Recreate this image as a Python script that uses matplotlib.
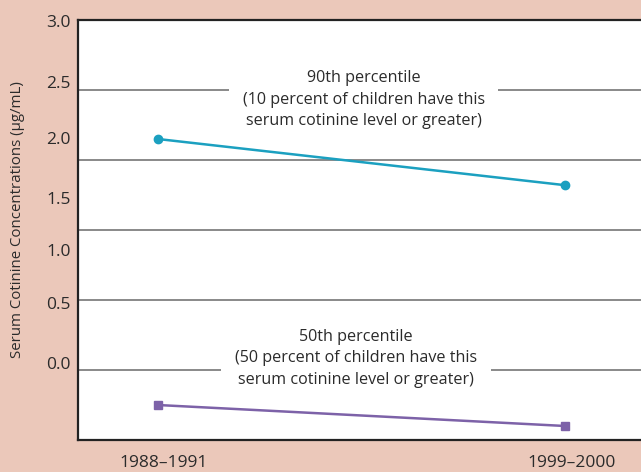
import matplotlib
matplotlib.use("Agg")
import matplotlib.pyplot as plt
from matplotlib.transforms import ScaledTranslation

# Survey periods and serum cotinine percentiles (µg/mL)
periods = ["1988–1991", "1999–2000"]
p90 = [2.15, 1.82]
p50 = [0.25, 0.10]

# Reference lines on the value axis
grid_values = [0.5, 1.0, 1.5, 2.0, 2.5]
# Tick text and where it sits along the axis
tick_labels = ["3.0", "2.5", "2.0", "1.5", "1.0", "0.5", "0.0"]
tick_positions = [2.99, 2.56, 2.16, 1.73, 1.36, 0.98, 0.55]

bg = "#EBC8BA"
ink = "#2b2b2b"
plt.rcParams["font.family"] = ["Open Sans", "DejaVu Sans"]

fig = plt.figure(figsize=(6.41, 4.72), dpi=100, facecolor=bg)
ax = fig.add_axes([78 / 641, 1 - 440 / 472, 1 - 78 / 641, 420 / 472])
ax.set_facecolor("white")

x = list(range(len(periods)))
ax.set_xlim(-0.196, 1.186)
ax.set_ylim(0, 3.0)

for g in grid_values:
    ax.axhline(g, color="#6a6a6a", lw=1.1, zorder=1)

ax.plot(x, p90, color="#1BA0C0", lw=1.8, marker="o", ms=6, zorder=5)
ax.plot(x, p50, color="#7D62A8", lw=1.8, marker="s", ms=6, zorder=5)

box = dict(facecolor="white", edgecolor="none", pad=10)
ax.text(0.505, 2.43, "90th percentile\n(10 percent of children have this\nserum cotinine level or greater)",
        ha="center", va="center", fontsize=11.6, color=ink, linespacing=1.45,
        bbox=box, zorder=3)
ax.text(0.487, 0.585, "50th percentile\n(50 percent of children have this\nserum cotinine level or greater)",
        ha="center", va="center", fontsize=11.6, color=ink, linespacing=1.45,
        bbox=box, zorder=3)

for side in ["top", "left", "bottom"]:
    ax.spines[side].set_color("#222222")
    ax.spines[side].set_linewidth(1.6)
ax.spines["right"].set_visible(False)

ax.set_xticks(x, periods)
ax.set_yticks(tick_positions, tick_labels)
ax.tick_params(axis="x", length=0, pad=11, labelsize=12.5, labelcolor=ink)
ax.tick_params(axis="y", length=0, pad=5, labelsize=12.5, labelcolor=ink)

shift = ScaledTranslation(6 / 100, 0, fig.dpi_scale_trans)
for lab in ax.get_xticklabels():
    lab.set_transform(lab.get_transform() + shift)

fig.text(18 / 641, 1 - 220 / 472, "Serum Cotinine Concentrations (µg/mL)",
         rotation=90, ha="center", va="center", fontsize=10.8, color=ink)

fig.savefig("out.png", dpi=100, facecolor=bg)
